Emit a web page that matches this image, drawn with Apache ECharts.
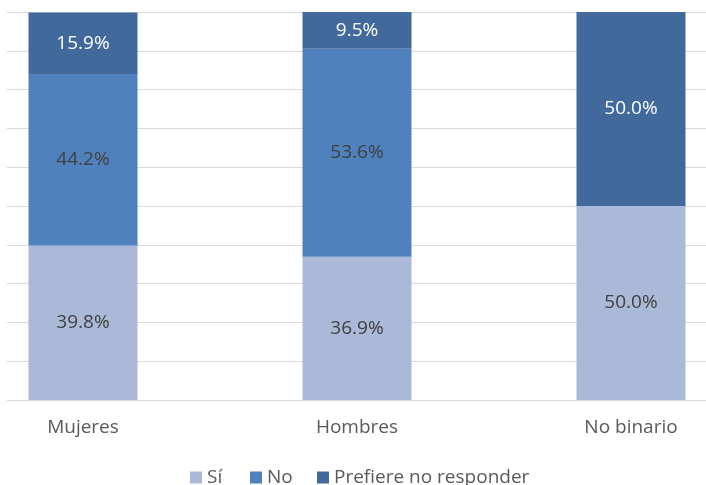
<!DOCTYPE html>
<html><head><meta charset="utf-8">
<script src="https://cdn.jsdelivr.net/npm/echarts@6/dist/echarts.min.js"></script>
<style>html,body{margin:0;padding:0;background:#fff}#c{width:706px;height:485px}</style>
</head><body><div id="c"></div>
<script>
const categories = ['Mujeres', 'Hombres', 'No binario'];
const si = [39.8, 36.9, 50.0];
const no = [44.2, 53.6, 0];
const prefiere = [15.9, 9.5, 50.0];
const seriesNames = ['Sí', 'No', 'Prefiere no responder'];
const colors = ['#AAB9D7', '#4F81BD', '#41699C'];
const labelColors = ['#404040', '#404040', '#FFFFFF'];
const FONT = 'Open Sans';
const chart = echarts.init(document.getElementById('c'), null, {renderer: 'canvas'});
const data = [si, no, prefiere];
const legendLeft = [190, 250, 317];
chart.setOption({
  animation: false,
  textStyle: {fontFamily: FONT},
  grid: {left: -54, width: 822, top: 12, height: 388, containLabel: false, outerBoundsMode: 'none'},
  legend: seriesNames.map((n, i) => ({
    data: [n], top: 468, left: legendLeft[i], padding: 0, itemWidth: 12, itemHeight: 12,
    icon: 'rect', textStyle: {color: '#595959', fontSize: 19, fontFamily: FONT}
  })),
  xAxis: {
    type: 'category', data: categories,
    axisLine: {show: false}, axisTick: {show: false},
    axisLabel: {color: '#595959', fontSize: 19, margin: 18, fontFamily: FONT}
  },
  yAxis: {
    type: 'value', min: 0, max: 100, interval: 10,
    axisLabel: {show: false}, axisLine: {show: false}, axisTick: {show: false},
    splitLine: {lineStyle: {color: '#D9D9D9', width: 1}}
  },
  graphic: [{type: 'rect', shape: {x: 0, y: 0, width: 7, height: 420}, style: {fill: '#fff'}, z: 100}],
  series: data.map((d, i) => ({
    name: seriesNames[i], type: 'bar', stack: 'total', barWidth: 109,
    data: d.map(v => v === 0 ? null : v),
    itemStyle: {color: colors[i]},
    label: {show: true, position: 'inside', formatter: p => p.value.toFixed(1) + '%',
      color: labelColors[i], fontSize: 19, fontFamily: FONT}
  }))
});
</script></body></html>
